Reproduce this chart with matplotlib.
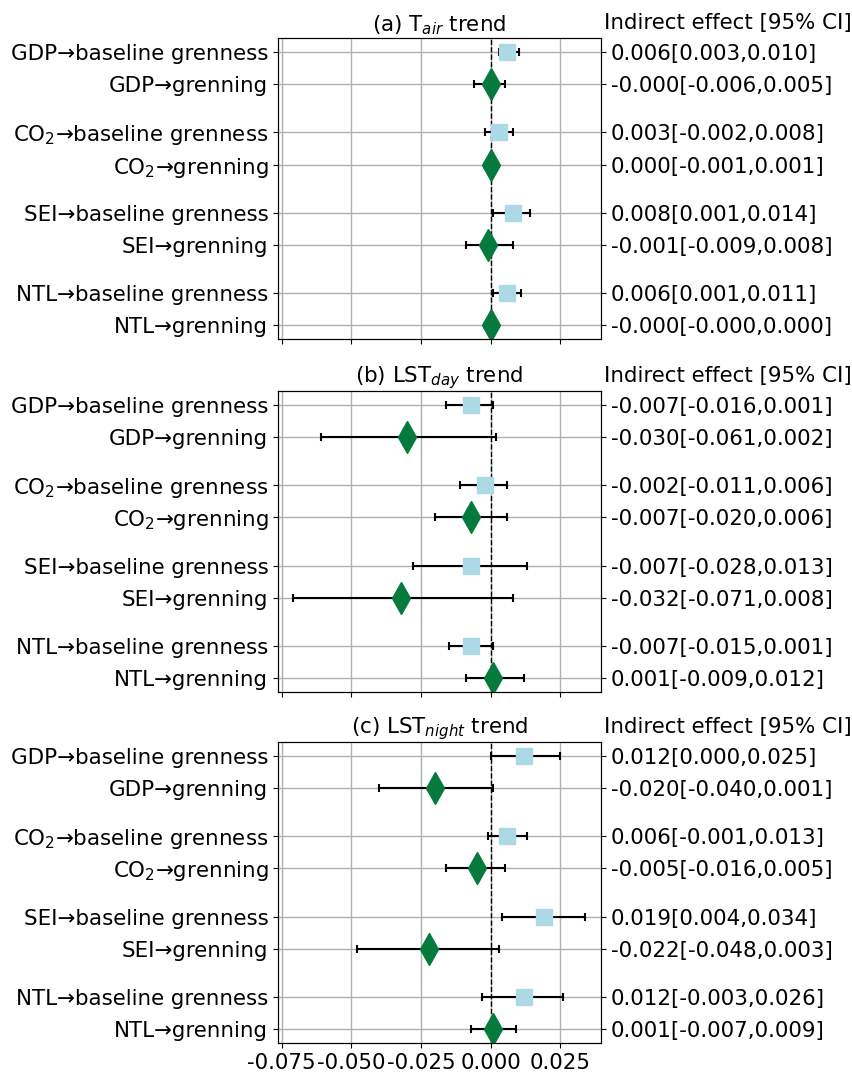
import matplotlib
matplotlib.use("Agg")
import matplotlib.pyplot as plt

# row labels (same in every panel)
labels = ["GDP→baseline grenness", "GDP→grenning",
          "CO$_2$→baseline grenness", "CO$_2$→grenning",
          "SEI→baseline grenness", "SEI→grenning",
          "NTL→baseline grenness", "NTL→grenning"]
ypos = [0, 1, 2.5, 3.5, 5, 6, 7.5, 8.5]

titles = ["(a) T$_{air}$ trend", "(b) LST$_{day}$ trend", "(c) LST$_{night}$ trend"]

# indirect effect estimates and 95% CI per panel
est_a = [0.006, -0.000, 0.003, 0.000, 0.008, -0.001, 0.006, -0.000]
lo_a = [0.003, -0.006, -0.002, -0.001, 0.001, -0.009, 0.001, -0.000]
hi_a = [0.010, 0.005, 0.008, 0.001, 0.014, 0.008, 0.011, 0.000]

est_b = [-0.007, -0.030, -0.002, -0.007, -0.007, -0.032, -0.007, 0.001]
lo_b = [-0.016, -0.061, -0.011, -0.020, -0.028, -0.071, -0.015, -0.009]
hi_b = [0.001, 0.002, 0.006, 0.006, 0.013, 0.008, 0.001, 0.012]

est_c = [0.012, -0.020, 0.006, -0.005, 0.019, -0.022, 0.012, 0.001]
lo_c = [0.000, -0.040, -0.001, -0.016, 0.004, -0.048, -0.003, -0.007]
hi_c = [0.025, 0.001, 0.013, 0.005, 0.034, 0.003, 0.026, 0.009]

panels = [(est_a, lo_a, hi_a), (est_b, lo_b, hi_b), (est_c, lo_c, hi_c)]

FS = 15.4
fig = plt.figure(figsize=(8.52, 10.76), dpi=100)
left, width, height = 0.3263, 0.3791, 0.2797
bottoms = [0.6849, 0.3569, 0.0307]

for k, (est, lo, hi) in enumerate(panels):
    ax = fig.add_axes([left, bottoms[k], width, height])
    ax.axvline(0, color="black", linestyle="--", linewidth=1, zorder=2)
    for i, y in enumerate(ypos):
        base = (i % 2 == 0)
        ax.errorbar(est[i], y, xerr=[[est[i] - lo[i]], [hi[i] - est[i]]],
                    fmt="s" if base else "d",
                    color="#ADD8E6" if base else "#067a3c",
                    markersize=12 if base else 16,
                    ecolor="black", elinewidth=1.5, capsize=3, capthick=1.5,
                    zorder=3)
    ax.set_xlim(-0.0763, 0.0396)
    ax.set_ylim(8.94, -0.44)
    ax.set_yticks(ypos)
    ax.set_yticklabels(labels, fontsize=FS)
    ax.set_xticks([-0.075, -0.05, -0.025, 0.0, 0.025])
    if k == 2:
        ax.set_xticklabels(["-0.075", "-0.050", "-0.025", "0.000", "0.025"], fontsize=FS)
    else:
        ax.set_xticklabels([])
    ax.grid(True, color="#b0b0b0", linewidth=1)
    ax.set_axisbelow(True)
    ax.set_title(titles[k], fontsize=FS, pad=5)

    # right side: text of effect and CI
    ax2 = ax.twinx()
    ax2.set_ylim(ax.get_ylim())
    ax2.set_yticks(ypos)
    ax2.set_yticklabels([f"{e:.3f}[{l:.3f},{h:.3f}]"
                         for e, l, h in zip(est, lo, hi)], fontsize=FS)
    ax.text(1.01, 1.0 + 5 / 301, "Indirect effect [95% CI]", transform=ax.transAxes,
            fontsize=FS, ha="left", va="bottom")

fig.savefig("out.png", dpi=100)
